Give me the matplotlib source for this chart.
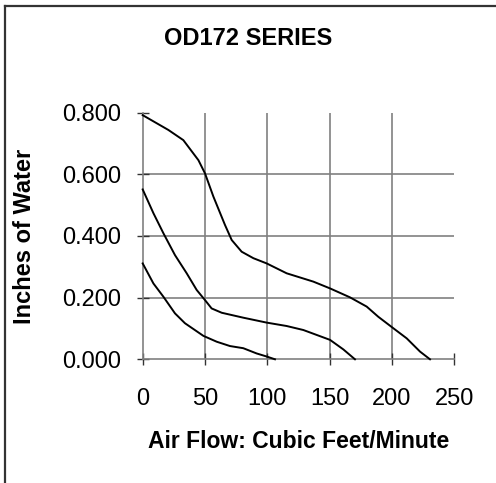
import matplotlib
matplotlib.use("Agg")
import matplotlib.pyplot as plt
from matplotlib.lines import Line2D

plt.rcParams['font.family'] = ['Liberation Sans', 'DejaVu Sans']

title = "OD172 SERIES"
x_label = "Air Flow: Cubic Feet/Minute"
y_label = "Inches of Water"
x_ticks = [0, 50, 100, 150, 200, 250]
y_ticks = [0.0, 0.2, 0.4, 0.6, 0.8]
y_tick_labels = ["0.000", "0.200", "0.400", "0.600", "0.800"]

# Top curve
top_x = [0, 20.6, 32.6, 44.7, 50, 56.7, 66, 71.4, 79.4, 88.8, 99.5, 115.5, 136.9, 150.3, 166.3, 179.7, 189, 201, 211.8, 222.5, 230.5]
top_y = [0.792, 0.744, 0.711, 0.646, 0.603, 0.528, 0.436, 0.387, 0.349, 0.328, 0.311, 0.279, 0.252, 0.230, 0.201, 0.171, 0.138, 0.101, 0.068, 0.025, 0.0]
# Middle curve
mid_x = [0, 8.6, 16.6, 25.9, 35.3, 43.3, 50, 55.3, 63.4, 80.7, 99.5, 115.5, 128.9, 139.6, 150.3, 161, 170.3]
mid_y = [0.551, 0.474, 0.409, 0.338, 0.279, 0.225, 0.192, 0.165, 0.151, 0.135, 0.119, 0.108, 0.095, 0.079, 0.063, 0.032, 0.0]
# Bottom curve
bot_x = [0, 8.6, 16.6, 25.9, 33.9, 48.7, 59.4, 70, 80.7, 91.4, 99.5, 106.1]
bot_y = [0.311, 0.246, 0.203, 0.149, 0.117, 0.076, 0.057, 0.043, 0.036, 0.019, 0.009, 0.0]

W, H = 496, 483
fig = plt.figure(figsize=(W / 100, H / 100), dpi=100)
fig.patch.set_facecolor('white')

ax = fig.add_axes([142.7 / W, 1 - 359.3 / H, (454.3 - 142.7) / W, (359.3 - 112.7) / H])
ax.set_xlim(0, 250)
ax.set_ylim(0, 0.8)

grid_color = '#808080'
for s in ['top', 'right']:
    ax.spines[s].set_visible(False)
for s in ['left', 'bottom']:
    ax.spines[s].set_color(grid_color)
    ax.spines[s].set_linewidth(1.2)

ax.set_xticks(x_ticks)
ax.set_yticks(y_ticks)
ax.set_yticklabels(y_tick_labels)
ax.tick_params(axis='both', direction='inout', length=9, width=1.0, color='#333333',
               labelsize=17, colors='#333333', labelcolor='black')
ax.tick_params(axis='y', pad=11)
ax.tick_params(axis='x', pad=16.5)

# grid lines (skip the top/right boundary)
for xv in x_ticks[1:-1]:
    ax.axvline(xv, color=grid_color, lw=1.2, zorder=1)
for yv in y_ticks[1:-1]:
    ax.axhline(yv, color=grid_color, lw=1.2, zorder=1)

for xs, ys in [(top_x, top_y), (mid_x, mid_y), (bot_x, bot_y)]:
    ax.plot(xs, ys, color='black', lw=1.4, zorder=3, clip_on=False)

fig.text(248 / W, 1 - 38.5 / H, title, ha='center', va='center', fontsize=17, fontweight='bold')
fig.text(298.5 / W, 1 - 441 / H, x_label, ha='center', va='center', fontsize=16.5, fontweight='bold')
fig.text(25 / W, 1 - 236 / H, y_label, ha='center', va='center', fontsize=17, fontweight='bold', rotation=90)

# outer frame (top and left visible)
fig.add_artist(Line2D([5 / W, 1.0], [1 - 6 / H, 1 - 6 / H], transform=fig.transFigure, color='#333333', lw=1.6))
fig.add_artist(Line2D([5 / W, 5 / W], [0.0, 1 - 6 / H], transform=fig.transFigure, color='#333333', lw=1.6))

fig.savefig('out.png', dpi=100, facecolor='white')
